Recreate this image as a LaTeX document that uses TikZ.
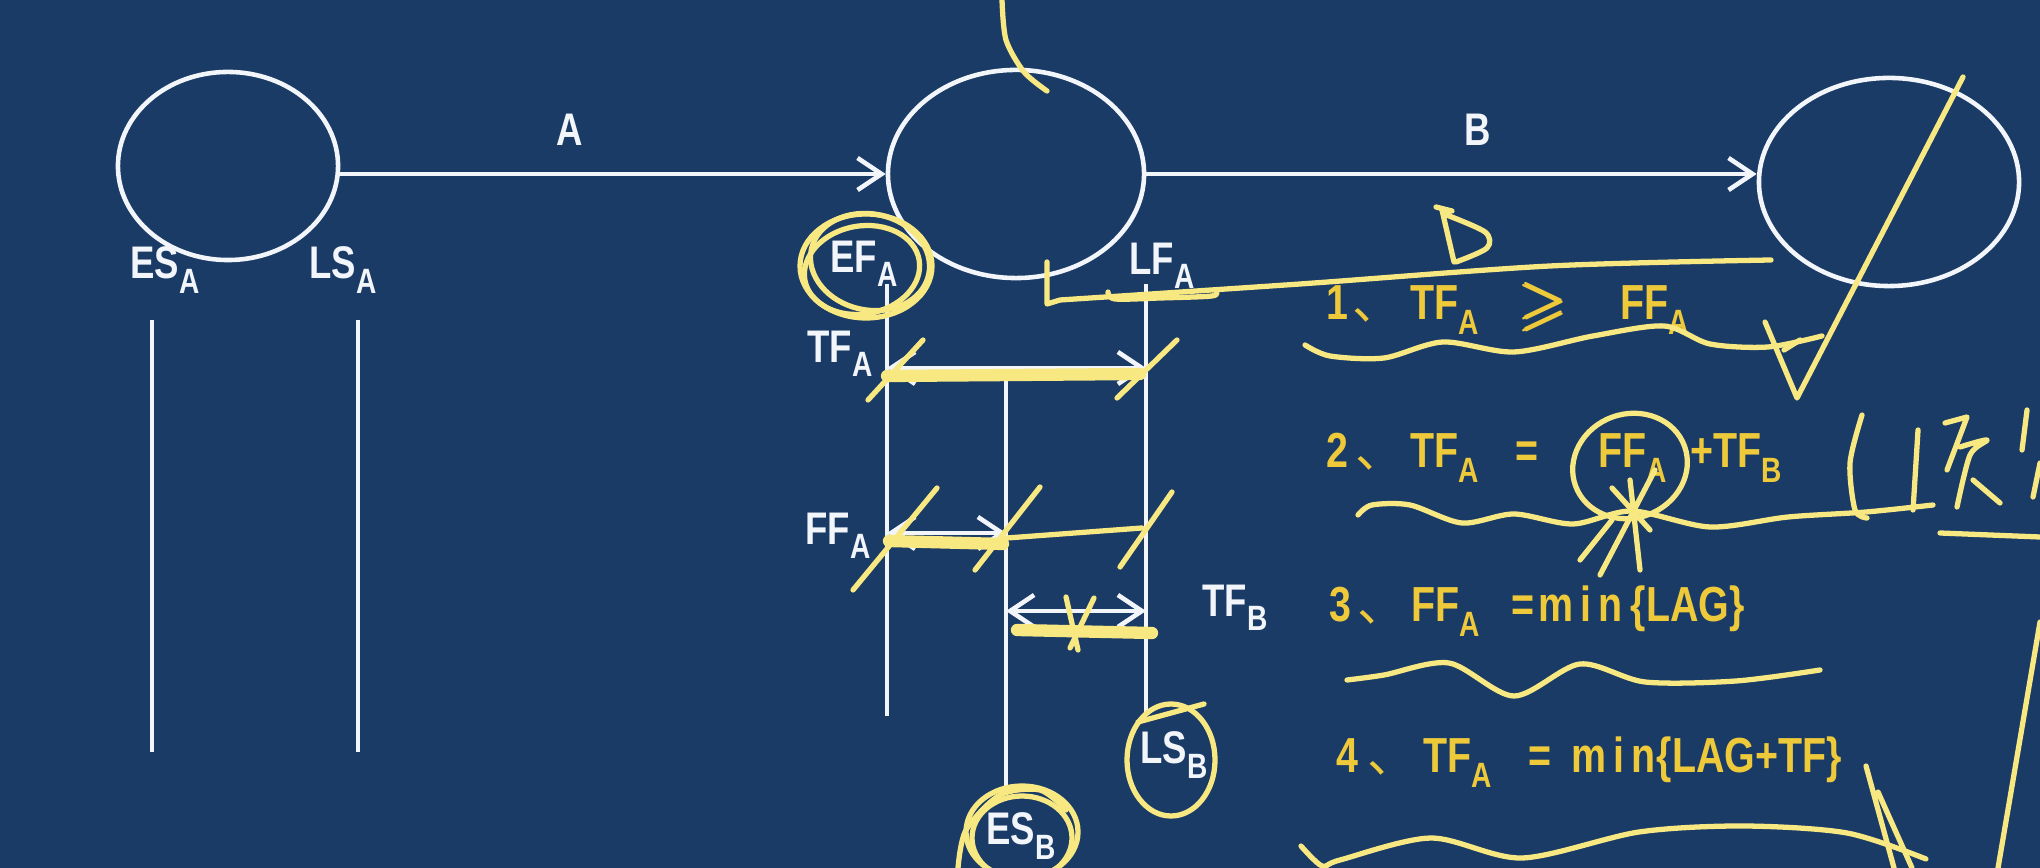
\documentclass[tikz,border=0pt]{standalone}
\usepackage{amsmath,amssymb,graphicx}
\usepackage{fontspec}
\setmainfont[FakeStretch=0.8]{Liberation Sans}
\newfontfamily\cjk{Noto Sans CJK SC}
\usetikzlibrary{arrows.meta,positioning,shapes.geometric}
\definecolor{board}{RGB}{27,59,103}
\definecolor{chalk}{RGB}{242,245,250}
\definecolor{gold}{RGB}{238,202,58}
\definecolor{pen}{RGB}{247,232,130}
\newlength\pxu \setlength\pxu{0.01cm}
\newcommand\sbs[1]{\raisebox{-4.1pt}{\fontsize{10}{10}\selectfont #1}}
\newcommand\dun{{\cjk\mdseries 、}}
\newcommand\slot[2]{\makebox[#1\pxu][l]{#2}}

\begin{document}
\begin{tikzpicture}[x=0.01cm,y=-0.01cm,
  every node/.style={font=\fontsize{13}{15}\bfseries\selectfont,text=chalk,inner sep=1pt},
  >={Straight Barb[length=2.4mm,width=3.2mm]},
  evt/.style={draw=chalk,line width=1.3pt,ellipse,inner sep=0pt},
  arr/.style={draw=chalk,line width=1.3pt,->},
  span/.style={draw=chalk,line width=1.3pt,<->},
  bar/.style={draw=chalk,line width=1.2pt},
  rule/.style={text=gold,anchor=base west,inner sep=0pt,font=\fontsize{14}{16}\bfseries\selectfont},
  ink/.style={draw=pen,line width=1.5pt,line cap=round,line join=round},
  thick ink/.style={ink,line width=3.5pt}]
\fill[board] (0,0) rectangle (2040,868);
\useasboundingbox (0,0) rectangle (2040,868);

% events and activities
\node[evt,minimum width=2.2cm,minimum height=1.88cm] (e1) at (228,166) {};
\node[evt,minimum width=2.56cm,minimum height=2.08cm] (e2) at (1016,174) {};
\node[evt,minimum width=2.6cm,minimum height=2.08cm] (e3) at (1889,182) {};
\draw[arr] (e1.east |- e2) -- (e2);
\draw[arr] (e2) -- (e3.west |- e2);
\node (actA) at (570,130) {A};
\node (actB) at (1478,130) {B};

% time labels
\node (esA) at (165,270) {ES\sbs{A}};
\node (lsA) at (343,270) {LS\sbs{A}};
\node (efA) at (864,264) {EF\sbs{A}};
\node (lfA) at (1162,266) {LF\sbs{A}};
\node (tfA) at (840,354) {TF\sbs{A}};
\node (ffA) at (838,536) {FF\sbs{A}};
\node (tfB) at (1235,608) {TF\sbs{B}};
\node (lsB) at (1174,755) {LS\sbs{B}};
\node (esB) at (1021,836) {ES\sbs{B}};

% time lines
\coordinate (a1) at (152,320); \coordinate (a2) at (152,752);
\coordinate (b1) at (358,320); \coordinate (b2) at (358,752);
\coordinate (c1) at (887,284); \coordinate (c2) at (887,716);
\coordinate (d1) at (1006,377); \coordinate (d2) at (1006,794);
\coordinate (f1) at (1146,284); \coordinate (f2) at (1146,713);
\draw[bar] (a1) -- (a2);
\draw[bar] (b1) -- (b2);
\draw[bar] (c1) -- (c2);
\draw[bar] (d1) -- (d2);
\draw[bar] (f1) -- (f2);
\draw[span] (c1 |- 0,368) -- (f1 |- 0,368);
\draw[span] (c1 |- 0,533) -- (d1 |- 0,533);
\draw[span] (d1 |- 0,611) -- (f1 |- 0,611);

% rules
\node[rule] (r1) at (1326,320) {\slot{26}{1}\slot{58}{\dun}\slot{110}{TF\sbs{A}}\slot{100}{\raisebox{-1pt}{\scalebox{1.25}{$\pmb{\geqslant}$}}}FF\sbs{A}};
\node[rule] (r2) at (1326,468) {\slot{29}{2}\slot{55}{\dun}\slot{105}{TF\sbs{A}}\slot{83}{=}\slot{92}{FF\sbs{A}}+TF\sbs{B}};
\node[rule] (r3) at (1329,622) {\slot{28}{3}\slot{54}{\dun}\slot{100}{FF\sbs{A}}\slot{27}{=}\slot{92}{m\hspace{2pt}i\hspace{2pt}n}\{LAG\}};
\node[rule] (r4) at (1336,773) {\slot{31}{4}\slot{56}{\dun}\slot{105}{TF\sbs{A}}\slot{43}{=}\slot{85}{m\hspace{2pt}i\hspace{2pt}n}\{LAG+TF\}};

% handwriting
\draw[ink] plot[smooth] coordinates {(1002,0) (1006,40) (1024,72) (1047,91)};
\draw[ink] (866,266) ellipse [x radius=66, y radius=-52];
\draw[ink,rotate around={-12:(870,262)}] (870,262) ellipse [x radius=60, y radius=-48];
\draw[ink,rotate around={10:(862,270)}] (862,270) ellipse [x radius=58, y radius=-44];
\draw[ink] (1047,262) -- (1047,304) -- (1060,300)
  plot[smooth] coordinates {(1060,300) (1300,284) (1550,266) (1771,260)};
\draw[ink] plot[smooth] coordinates {(1108,292) (1115,299) (1160,298) (1212,296) (1216,291)};
\draw[ink] (1436,207) -- (1452,211) (1442,210) -- (1454,262)
  plot[smooth] coordinates {(1444,214) (1485,232) (1487,248) (1456,262)};
\draw[ink] (1765,322) -- (1797,398) -- (1963,77);
\draw[ink] (1784,350) -- (1800,340);
\draw[ink] plot[smooth] coordinates {(1305,345) (1330,356) (1384,358) (1443,342) (1514,352) (1593,336) (1664,326) (1710,344) (1768,347) (1822,336)};
\draw[thick ink] (887,376) -- (1140,374);
\draw[ink] (868,400) -- (923,340) (1117,398) -- (1177,340);
\draw[thick ink] (889,541) -- (1003,544);
\draw[ink] (1007,538) -- (1142,528);
\draw[ink] (853,590) -- (937,488) (975,570) -- (1040,487) (1120,567) -- (1172,492);
\draw[thick ink] (1017,630) -- (1152,633);
\draw[ink] (1066,597) -- (1078,650) (1094,598) -- (1070,648);
\draw[ink,rotate around={20:(1630,466)}] (1630,466) ellipse [x radius=58, y radius=-52];
\draw[ink] (1612,488) -- (1650,530) (1655,470) -- (1600,575) (1630,480) -- (1640,570) (1612,520) -- (1580,560);
\draw[ink] plot[smooth] coordinates {(1358,515) (1372,505) (1410,505) (1462,523) (1514,514) (1573,524) (1632,511) (1710,527) (1788,517) (1866,512) (1933,505)};
% bracket note
\draw[ink] plot[smooth] coordinates {(1862,415) (1850,463) (1855,510) (1867,518)};
\draw[ink] (1918,430) -- (1913,510);
\draw[ink] (1945,423) -- (1967,417) -- (1947,470);
\draw[ink] plot[smooth] coordinates {(1960,447) (1987,440) (1970,455) (1957,507)};
\draw[ink] (1973,480) -- (2000,503);
\draw[ink] (2027,410) -- (2022,450) (2040,463) -- (2033,497);
\draw[ink] (1940,533) -- (2040,537);
\draw[ink] plot[smooth] coordinates {(1347,680) (1384,675) (1449,663) (1514,696) (1580,664) (1645,682) (1736,681) (1820,670)};
\draw[ink] plot[smooth] coordinates {(1301,846) (1322,866) (1340,860) (1431,838) (1522,858) (1639,832) (1743,826) (1847,833) (1926,859)};
\draw[ink] (1866,766) -- (1894,868) (1878,792) -- (1912,868);
\draw[ink] (2040,622) -- (1998,868);
\draw[ink] (1171,760) ellipse [x radius=44, y radius=-56];
\draw[ink] (1138,722) -- (1204,704);
\draw[ink] (1022,832) ellipse [x radius=56, y radius=-46];
\draw[ink] (1022,838) ellipse [x radius=50, y radius=-42];
\draw[ink] plot[smooth] coordinates {(958,868) (966,830) (1000,795) (1040,790) (1066,810)};
\end{tikzpicture}
\end{document}
